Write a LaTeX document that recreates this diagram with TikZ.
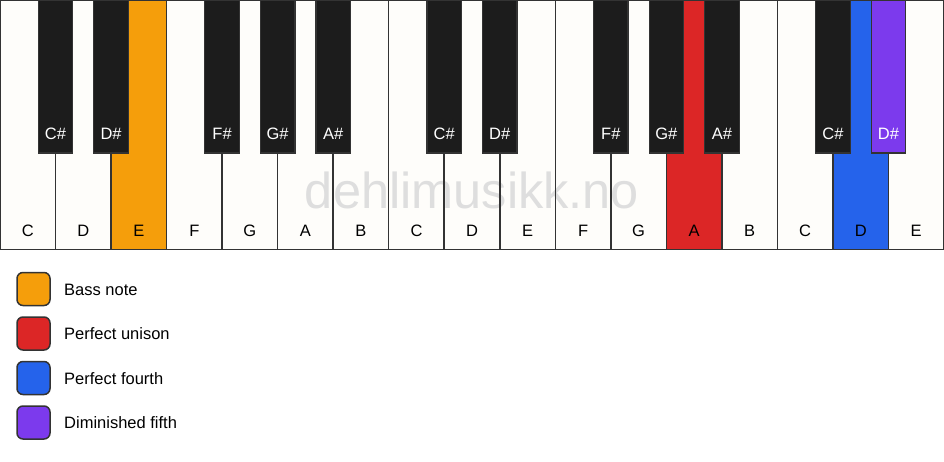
\documentclass[tikz,border=0pt]{standalone}
\usepackage{fontspec}
\setmainfont{Liberation Sans}
\definecolor{keywhite}{HTML}{FEFDFA}
\definecolor{keyblack}{HTML}{1C1C1C}
\definecolor{keyline}{HTML}{333333}
\definecolor{amberk}{HTML}{F59E0B}
\definecolor{redk}{HTML}{DC2626}
\definecolor{bluek}{HTML}{2563EB}
\definecolor{violetk}{HTML}{7C3AED}
\definecolor{wmgray}{HTML}{DEDEDE}
\tikzset{
  whitekey/.style={draw=keyline, line width=1.5pt, rectangle, inner sep=0pt, outer sep=0pt,
    minimum width=55.5294pt, minimum height=249.5pt},
  blackkey/.style={draw=keyline, line width=1.2pt, fill=keyblack, rectangle, inner sep=0pt, outer sep=0pt,
    minimum width=34.5pt, minimum height=153pt, anchor=north},
  wlabel/.style={font=\fontsize{16.5}{19}\selectfont, text=black, inner sep=0pt, anchor=base},
  blabel/.style={font=\fontsize{16.5}{19}\selectfont, text=white, inner sep=0pt, anchor=base},
  legendbox/.style={draw=keyline, line width=1.5pt, rounded corners=6pt, minimum width=33pt, minimum height=33pt, inner sep=0pt},
  legendtext/.style={font=\fontsize{16.5}{19}\selectfont, text=black, inner sep=0pt, anchor=base west},
  watermark/.style={font=\fontsize{50.5}{58}\selectfont, text=wmgray, inner sep=0pt, anchor=base}
}
\begin{document}
\begin{tikzpicture}[x=1pt,y=-1pt]
\useasboundingbox (0,0) rectangle (944,461);
\fill[white] (0,0) rectangle (944,461);
\def\w{55.5294}
\fill[keywhite] (0,0) rectangle (944,249.5);
\node[watermark] (wm) at (472,208) {dehlimusikk.no};
% white keys
\foreach \i/\n/\c in {0/C/none,1/D/none,2/E/amberk,3/F/none,4/G/none,5/A/none,6/B/none,7/C/none,8/D/none,9/E/none,10/F/none,11/G/none,12/A/redk,13/B/none,14/C/none,15/D/bluek,16/E/none}{
  \node[whitekey, fill=\c] (w\i) at ({(\i+0.5)*\w},124.75) {};
  \node[wlabel] (wl\i) at ({(\i+0.5)*\w},236) {\n};
}
% black keys
\foreach \i/\n/\c in {1/C\#/keyblack,2/D\#/keyblack,4/F\#/keyblack,5/G\#/keyblack,6/A\#/keyblack,8/C\#/keyblack,9/D\#/keyblack,11/F\#/keyblack,12/G\#/keyblack,13/A\#/keyblack,15/C\#/keyblack,16/D\#/violetk}{
  \node[blackkey, fill=\c] (b\i) at ({\i*\w},0) {};
  \node[blabel] (bl\i) at ({\i*\w},139) {\n};
}
% legend
\foreach \k/\y/\c/\t in {1/289/amberk/Bass note,2/333.5/redk/Perfect unison,3/378/bluek/Perfect fourth,4/422.5/violetk/Diminished fifth}{
  \node[legendbox, fill=\c] (lb\k) at (33.5,\y) {};
  \node[legendtext] (lt\k) at (64,\y+6) {\t};
}
\end{tikzpicture}
\end{document}
